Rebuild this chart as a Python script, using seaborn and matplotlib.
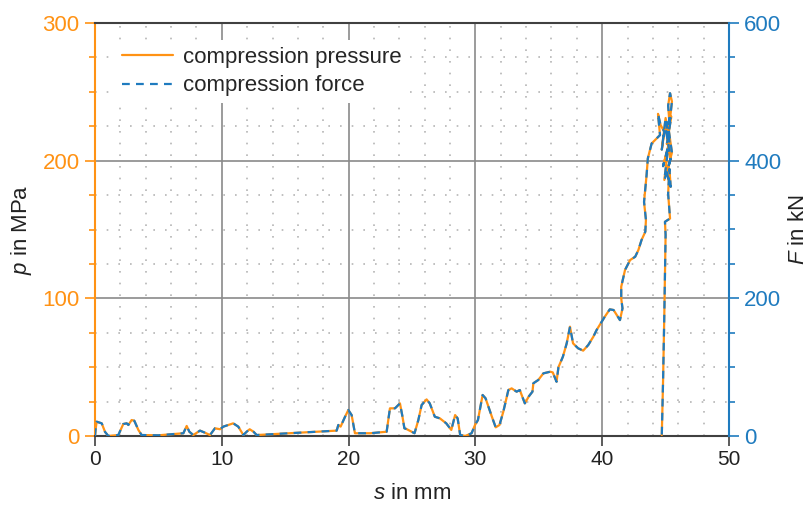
import matplotlib
matplotlib.use("Agg")
import matplotlib.pyplot as plt
from matplotlib.ticker import MultipleLocator
from matplotlib.lines import Line2D
import seaborn as sns
import pandas as pd

# displacement s in mm
s_mm = [0.0, 0.05, 0.13, 0.53, 0.79, 1.05, 1.84, 2.23, 2.5, 2.63, 2.89, 3.1, 3.42, 3.68, 5.0,
        6.97, 7.23, 7.44, 7.75, 8.28, 8.67, 9.07, 9.46, 9.86, 10.12, 10.9, 11.3, 11.7, 11.96,
        12.2, 12.5, 12.75, 19.06, 19.19, 19.37, 19.72, 19.98, 20.24, 20.5, 21.7, 23.0, 23.26,
        23.66, 24.05, 24.25, 24.4, 24.58, 25.2, 25.5, 25.76, 26.15, 26.4, 26.8, 27.2, 27.7,
        28.1, 28.4, 28.6, 28.8, 29.2, 29.7, 29.97, 30.2, 30.57, 30.8, 31.3, 31.6, 31.9, 32.2,
        32.6, 32.86, 33.25, 33.5, 33.9, 34.2, 34.5, 34.57, 34.96, 35.36, 35.9, 36.1, 36.4,
        36.55, 36.9, 37.2, 37.46, 37.7, 38.1, 38.5, 38.9, 39.3, 39.56, 39.96, 40.2, 40.6,
        40.9, 41.4, 41.6, 41.5, 41.5, 41.8, 42.2, 42.6, 42.85, 43.1, 43.4, 43.45, 43.3, 43.5,
        43.6, 43.9, 44.3, 44.56, 44.4, 44.6, 44.9, 44.7, 45.0, 45.3, 44.8, 45.2, 44.9, 45.4,
        45.0, 45.45, 45.1, 45.3, 45.2, 45.35, 45.5, 45.25, 45.5, 45.1, 45.4, 45.3, 45.2,
        45.35, 44.95, 45.0, 44.9, 44.8, 44.7]

# compression pressure p in MPa
p_mpa = [0.0, 5.0, 10.4, 9.2, 3.0, 0.0, 0.7, 8.7, 9.2, 8.0, 11.6, 11.1, 4.4, 0.7, 0.5,
         2.0, 7.3, 3.1, 0.7, 3.9, 2.4, 0.7, 5.6, 4.9, 6.8, 9.2, 6.8, 0.7, 3.1,
         4.9, 3.1, 0.7, 3.9, 8.0, 6.8, 14.0, 18.9, 15.2, 2.0, 2.0, 3.1, 20.1,
         20.1, 23.7, 14.0, 5.6, 5.0, 2.0, 11.6, 22.5, 26.6, 23.7, 14.0, 12.8, 9.2,
         4.4, 15.2, 12.8, 0.7, 0.0, 2.0, 8.0, 11.6, 29.8, 27.4, 14.0, 6.3, 8.0, 17.6,
         33.4, 34.6, 32.2, 33.4, 23.7, 28.6, 32.2, 38.3, 40.7, 45.5, 46.7, 46.2, 39.4,
         50.0, 57.6, 67.3, 79.4, 67.3, 63.7, 62.0, 66.1, 72.1, 77.0, 83.0, 86.6, 92.0,
         91.5, 84.2, 92.7, 100.0, 108.4, 120.6, 127.8, 130.2, 135.0, 142.3, 148.4, 157.0, 170.0, 189.5,
         201.7, 212.5, 216.2, 218.6, 234.0, 226.0, 221.0, 208.0, 231.0, 214.0, 196.0, 209.0, 186.0, 201.0,
         224.0, 232.0, 212.0, 228.0, 240.0, 249.0, 243.0, 222.0, 206.0, 191.0, 181.0, 194.0, 176.0,
         158.0, 155.6, 146.0, 89.0, 40.0, 0.7]

# compression force F in kN
f_kn = [0.0, 10.0, 20.8, 18.4, 6.0, 0.0, 1.4, 17.4, 18.4, 16.0, 23.2, 22.2, 8.8, 1.4, 1.0,
        4.0, 14.6, 6.2, 1.4, 7.8, 4.8, 1.4, 11.2, 9.8, 13.6, 18.4, 13.6, 1.4, 6.2,
        9.8, 6.2, 1.4, 7.8, 16.0, 13.6, 28.0, 37.8, 30.4, 4.0, 4.0, 6.2, 40.2,
        40.2, 47.4, 28.0, 11.2, 10.0, 4.0, 23.2, 45.0, 53.2, 47.4, 28.0, 25.6, 18.4,
        8.8, 30.4, 25.6, 1.4, 0.0, 4.0, 16.0, 23.2, 59.6, 54.8, 28.0, 12.6, 16.0, 35.2,
        66.8, 69.2, 64.4, 66.8, 47.4, 57.2, 64.4, 76.6, 81.4, 91.0, 93.4, 92.4, 78.8,
        100.0, 115.2, 134.6, 158.8, 134.6, 127.4, 124.0, 132.2, 144.2, 154.0, 166.0, 173.2, 184.0,
        183.0, 168.4, 185.4, 200.0, 216.8, 241.2, 255.6, 260.4, 270.0, 284.6, 296.8, 314.0, 340.0, 379.0,
        403.4, 425.0, 432.4, 437.2, 468.0, 452.0, 442.0, 416.0, 462.0, 428.0, 392.0, 418.0, 372.0, 402.0,
        448.0, 464.0, 424.0, 456.0, 480.0, 498.0, 486.0, 444.0, 412.0, 382.0, 362.0, 388.0, 352.0,
        316.0, 311.2, 292.0, 178.0, 80.0, 1.4]

orange = "#ff9214"
blue = "#1f7bbf"

df = pd.DataFrame({"s": s_mm, "p": p_mpa, "F": f_kn})

sns.set_style("white")
plt.rcParams["font.family"] = ["Liberation Sans", "DejaVu Sans"]
plt.rcParams["mathtext.fontset"] = "custom"
plt.rcParams["mathtext.it"] = "Liberation Sans:italic"
plt.rcParams["mathtext.rm"] = "Liberation Sans"

fig = plt.figure(figsize=(8.11, 5.07), dpi=100)
ax = fig.add_axes([95 / 811, 1 - 436 / 507, (729 - 95) / 811, (436 - 23) / 507])
ax2 = ax.twinx()

dash = (0, (3.5, 2.8))
sns.lineplot(data=df, x="s", y="p", sort=False, estimator=None, ax=ax,
             color=orange, linewidth=1.6, zorder=3)
sns.lineplot(data=df, x="s", y="F", sort=False, estimator=None, ax=ax2,
             color=blue, linewidth=1.6, linestyle=dash, zorder=4)

ax.set_xlim(0, 50)
ax.set_ylim(0, 300)
ax2.set_ylim(0, 600)

ax.xaxis.set_major_locator(MultipleLocator(10))
ax.xaxis.set_minor_locator(MultipleLocator(2))
ax.yaxis.set_major_locator(MultipleLocator(100))
ax.yaxis.set_minor_locator(MultipleLocator(25))
ax2.yaxis.set_major_locator(MultipleLocator(200))
ax2.yaxis.set_minor_locator(MultipleLocator(50))

ax.grid(which="major", color="#8a8a8a", linewidth=1.2, linestyle="-", zorder=0)
ax.grid(which="minor", color="#b5b5b5", linewidth=1.2, linestyle=(0, (1, 6)), zorder=0)
ax.set_axisbelow(True)
ax2.grid(False)

for a in (ax, ax2):
    for sp in a.spines.values():
        sp.set_visible(True)
        sp.set_linewidth(1.5)
ax.spines["top"].set_color("#404040")
ax.spines["bottom"].set_color("#404040")
ax.spines["left"].set_color(orange)
ax.spines["right"].set_visible(False)
ax2.spines["left"].set_visible(False)
ax2.spines["top"].set_visible(False)
ax2.spines["bottom"].set_visible(False)
ax2.spines["right"].set_color(blue)

ax.tick_params(axis="x", which="major", direction="out", length=7, width=1.2,
               color="#404040", labelsize=15, labelcolor="#222222", bottom=True, pad=3)
ax.tick_params(axis="x", which="minor", bottom=False)
ax.tick_params(axis="y", which="major", direction="out", length=7, width=1.2,
               color=orange, labelsize=16, labelcolor=orange, left=True, pad=4)
ax.tick_params(axis="y", which="minor", direction="out", length=4, width=1.2,
               color=orange, left=True)
ax2.tick_params(axis="y", which="major", direction="out", length=7, width=1.2,
                color=blue, labelsize=16, labelcolor=blue, right=True, pad=4)
ax2.tick_params(axis="y", which="minor", direction="out", length=4, width=1.2,
                color=blue, right=True)

ax.set_xlabel("$s$ in mm", fontsize=16, color="#222222", labelpad=10)
ax.set_ylabel("$p$ in MPa", fontsize=16, color="#222222", labelpad=6)
ax2.set_ylabel("$F$ in kN", fontsize=16, color="#222222", rotation=90, labelpad=5)

handles = [Line2D([0], [0], color=orange, linewidth=1.6),
           Line2D([0], [0], color=blue, linewidth=1.6, linestyle=dash)]
leg = ax2.legend(handles, ["compression pressure", "compression force"],
                 loc="upper left", bbox_to_anchor=(0.025, 0.97), fontsize=16,
                 frameon=True, facecolor="white", edgecolor="none", framealpha=1,
                 handlelength=2.3, handletextpad=0.45, labelspacing=0.35,
                 borderaxespad=0.2, borderpad=0.3, fancybox=False)
leg.set_zorder(10)

fig.savefig("out.png", dpi=100)
